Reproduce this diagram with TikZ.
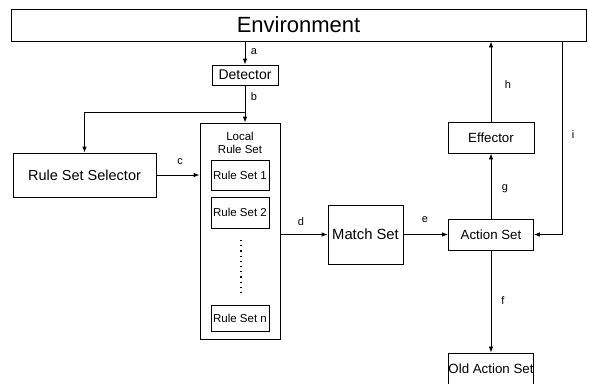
\documentclass[tikz,border=0pt]{standalone}
\usepackage{fontspec}
\setmainfont{Liberation Sans}
\usetikzlibrary{arrows.meta}
\begin{document}
\begin{tikzpicture}[x=1pt,y=-1pt,
  box/.style={draw,line width=0.8pt,inner sep=0pt,font=\fontsize{13.3}{15}\selectfont},
  inbox/.style={box,minimum width=58pt,font=\fontsize{11.5}{13}\selectfont},
  lbl/.style={inner sep=0pt,font=\fontsize{11}{12}\selectfont},
  conn/.style={line width=0.8pt,-{Latex[length=6pt,width=4.5pt]}},
  plain/.style={line width=0.8pt}]
\clip (0,0) rectangle (589,383);
\fill[white] (0,0) rectangle (589,383);
% nodes
\node[box,minimum width=575pt,minimum height=32pt,font=\fontsize{22}{24}\selectfont] (env) at (298.5,25) {Environment};
\node[box,minimum width=66pt,minimum height=20pt,font=\fontsize{14}{15}\selectfont] (det) at (245,75) {Detector};
\node[box,minimum width=143pt,minimum height=44pt,font=\fontsize{14.5}{16}\selectfont] (rss) at (84.5,175) {Rule Set Selector};
\node[box,minimum width=80pt,minimum height=216pt] (lrs) at (240,231) {};
\node[lbl,align=center,font=\fontsize{11.5}{13}\selectfont] (lrst) at (240,143) {Local\\Rule Set};
\node[inbox,minimum height=30pt] (rs1) at (240,175) {Rule Set 1};
\node[inbox,minimum height=31pt] (rs2) at (240,212.5) {Rule Set 2};
\node[inbox,minimum height=26pt] (rsn) at (240,318) {Rule Set n};
\node[box,minimum width=75pt,minimum height=59pt,font=\fontsize{14.8}{16}\selectfont] (match) at (365.5,234.5) {Match Set};
\node[box,minimum width=85pt,minimum height=31pt] (action) at (491,234.5) {Action Set};
\node[box,minimum width=86pt,minimum height=31pt] (eff) at (491,137.5) {Effector};
\node[box,minimum width=85pt,minimum height=32pt] (old) at (491,369) {Old Action Set};
% dots
\draw[line width=1.2pt,dash pattern=on 1.2pt off 4pt] (241,240) -- (241,294);
% coordinates
\coordinate (br) at (245,112);
\coordinate (ienv) at (562,41);
% connectors
\draw[conn] (env.south -| det.north) -- (det.north);
\draw[conn] (det.south) -- (det.south |- lrs.north);
\draw[conn] (br) -| (rss.north);
\draw[conn] (rss.east) -- (lrs.west |- rss.east);
\draw[conn] (lrs.east |- match.west) -- (match.west);
\draw[conn] (match.east) -- (action.west);
\draw[conn] (ienv) |- (action.east);
\draw[conn] (action.north) -- (eff.south);
\draw[conn] (eff.north) -- (eff.north |- env.south);
\draw[conn] (action.south) -- (old.north);
% labels
\node[lbl] (la) at (254,52) {a};
\node[lbl] (lb) at (254,97) {b};
\node[lbl] (lc) at (180,162) {c};
\node[lbl] (ld) at (301,222) {d};
\node[lbl] (le) at (425,220) {e};
\node[lbl] (lf) at (503,301) {f};
\node[lbl] (lg) at (505,189) {g};
\node[lbl] (lh) at (508,85) {h};
\node[lbl] (li) at (573,135) {i};
\end{tikzpicture}
\end{document}
